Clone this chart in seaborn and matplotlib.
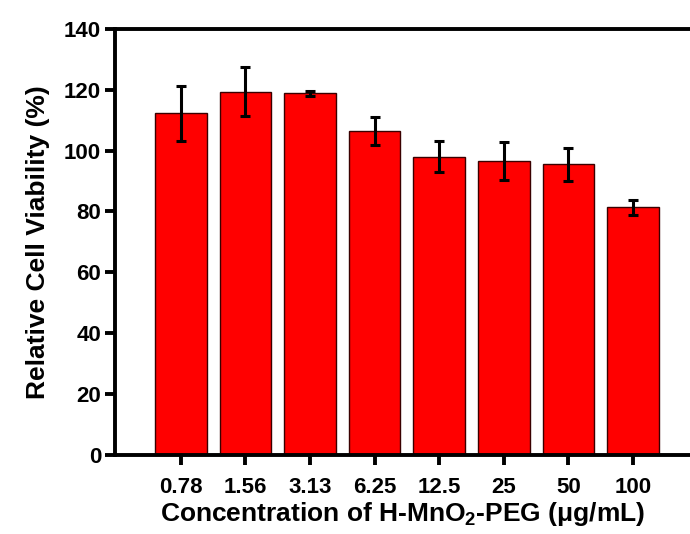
import numpy as np
import matplotlib
matplotlib.use("Agg")
import matplotlib.pyplot as plt
import seaborn as sns

# data
concentrations = ["0.78", "1.56", "3.13", "6.25", "12.5", "25", "50", "100"]
viability = [112.3, 119.3, 118.8, 106.4, 98.0, 96.6, 95.5, 81.4]
viability_err = [9.0, 8.0, 0.9, 4.7, 5.0, 6.2, 5.5, 2.5]

sns.set_theme(style="white")
plt.rcParams["font.family"] = ["Liberation Sans", "DejaVu Sans"]
plt.rcParams["font.weight"] = "bold"
plt.rcParams["text.color"] = "black"
plt.rcParams["axes.labelcolor"] = "black"
plt.rcParams["mathtext.fontset"] = "custom"
plt.rcParams["mathtext.rm"] = "Liberation Sans:bold"
plt.rcParams["mathtext.default"] = "rm"

fig = plt.figure(figsize=(6.9, 5.34), dpi=100)
ax = fig.add_axes([0.1667, 0.148, 0.833, 0.798])

sns.barplot(x=concentrations, y=viability, color="#ff0000", saturation=1,
            width=0.8, edgecolor="#3a0000", linewidth=1.0, ax=ax)
ax.errorbar(np.arange(len(concentrations)), viability, yerr=viability_err,
            fmt="none", ecolor="black", elinewidth=2.2, capsize=3.5,
            capthick=2.2)

ax.set_ylim(0, 140)
ax.set_xlim(-1.02, 7.88)
ax.set_yticks(range(0, 141, 20))

for side in ["left", "bottom", "top"]:
    ax.spines[side].set_linewidth(2.8)
    ax.spines[side].set_color("black")
ax.spines["right"].set_visible(False)

ax.tick_params(axis="both", direction="out", length=7, width=2.8,
               labelsize=16, colors="black", bottom=True, left=True)
ax.tick_params(axis="x", pad=9)
ax.tick_params(axis="y", pad=3)

ax.set_ylabel("Relative Cell Viability (%)", fontsize=19, fontweight="bold",
              labelpad=10)
ax.set_xlabel("Concentration of H-MnO$_2$-PEG (μg/mL)", fontsize=19,
              fontweight="bold", labelpad=1)

fig.savefig("out.png", dpi=100)
